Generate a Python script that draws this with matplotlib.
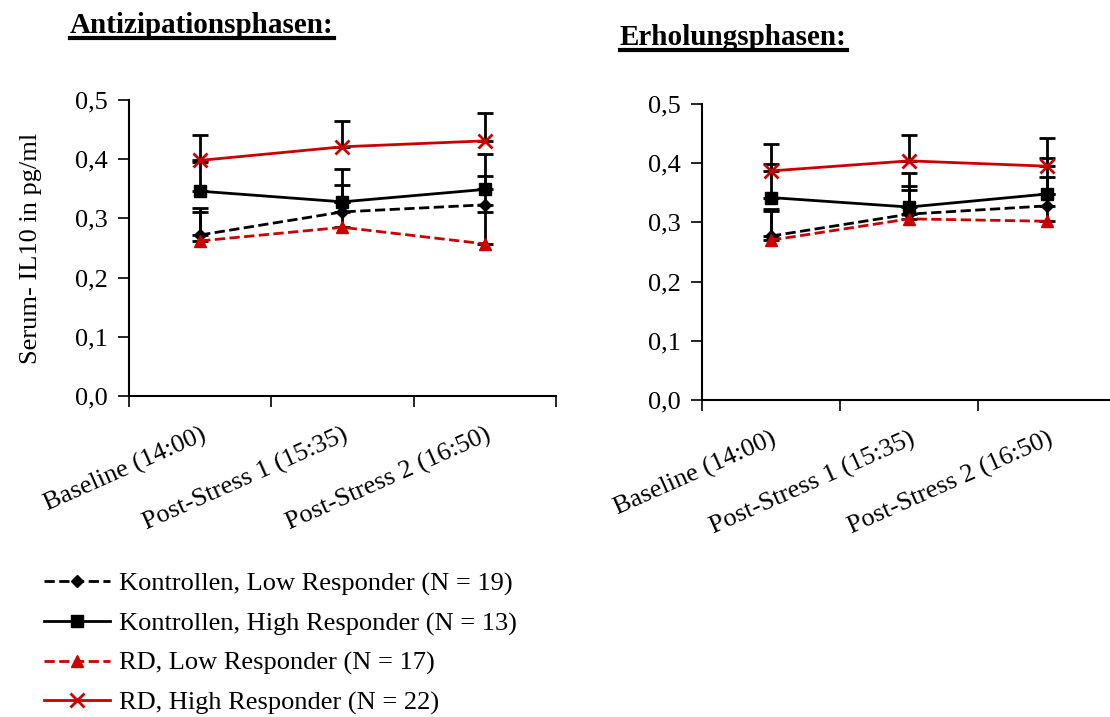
import numpy as np
import matplotlib
matplotlib.use('Agg')
from matplotlib import pyplot as plt
from matplotlib.lines import Line2D

plt.rcParams['font.family'] = ['Liberation Serif', 'DejaVu Serif']

zeiten = ['Baseline (14:00)', 'Post-Stress 1 (15:35)', 'Post-Stress 2 (16:50)']
gruppen = ['Kontrollen, Low Responder (N = 19)', 'Kontrollen, High Responder (N = 13)',
           'RD, Low Responder (N = 17)', 'RD, High Responder (N = 22)']

# Antizipationsphasen: mean and upper error
anti_kl = [0.272, 0.311, 0.323]
anti_kh = [0.346, 0.328, 0.349]
anti_rl = [0.262, 0.285, 0.257]
anti_rh = [0.398, 0.421, 0.431]
anti_kl_err = [0.045, 0.045, 0.049]
anti_kh_err = [0.050, 0.055, 0.060]
anti_rl_err = [0.048, 0.043, 0.053]
anti_rh_err = [0.043, 0.044, 0.047]

# Erholungsphasen
erh_kl = [0.277, 0.314, 0.328]
erh_kh = [0.342, 0.326, 0.348]
erh_rl = [0.270, 0.306, 0.302]
erh_rh = [0.387, 0.404, 0.395]
erh_kl_err = [0.045, 0.047, 0.048]
erh_kh_err = [0.056, 0.058, 0.060]
erh_rl_err = [0.050, 0.049, 0.046]
erh_rh_err = [0.045, 0.044, 0.047]

rot = '#cc0000'
stile = [dict(color='black', ls='--', marker='D', ms=6),
         dict(color='black', ls='-', marker='s', ms=9),
         dict(color=rot, ls='--', marker='^', ms=9),
         dict(color=rot, ls='-', marker='x', ms=10, mew=2)]

fs = 19
fig = plt.figure(figsize=(11.1, 7.17), dpi=100)
ax1 = fig.add_axes([0.1162, 0.4477, 0.3847, 0.4128])
ax2 = fig.add_axes([0.6324, 0.4421, 0.3730, 0.4128])

def panel(ax, werte, fehler):
    x = np.arange(len(zeiten))
    for y, e in zip(werte, fehler):
        ax.errorbar(x, y, yerr=[np.zeros(len(e)), e], fmt='none', ecolor='black',
                    elinewidth=2, capsize=6, capthick=2, zorder=2)
    for y, s, lab in zip(werte, stile, gruppen):
        ax.plot(x, y, lw=2, label=lab, zorder=3, **s)
    ax.set_xlim(-0.5, 2.5)
    ax.set_ylim(0, 0.5)
    ax.set_yticks(np.arange(0, 0.51, 0.1))
    ax.set_yticklabels([('%.1f' % v).replace('.', ',') for v in np.arange(0, 0.51, 0.1)], fontsize=fs)
    ax.set_xticks(x)
    ax.set_xticklabels(zeiten, rotation=24, ha='right', va='top', rotation_mode='anchor', fontsize=fs)
    ax.set_xticks([-0.5, 0.5, 1.5, 2.5], minor=True)
    ax.tick_params(axis='x', which='major', length=0, pad=20)
    ax.tick_params(axis='x', which='minor', length=8, width=1.2, direction='out')
    ax.tick_params(axis='y', length=8, width=1.2, direction='out', pad=7)
    for sp in ['top', 'right']:
        ax.spines[sp].set_visible(False)
    for sp in ['left', 'bottom']:
        ax.spines[sp].set_linewidth(1.5)

panel(ax1, [anti_kl, anti_kh, anti_rl, anti_rh], [anti_kl_err, anti_kh_err, anti_rl_err, anti_rh_err])
panel(ax2, [erh_kl, erh_kh, erh_rl, erh_rh], [erh_kl_err, erh_kh_err, erh_rl_err, erh_rh_err])
ax1.set_ylabel('Serum- IL10 in pg/ml', fontsize=fs, labelpad=24)

h, l = ax1.get_legend_handles_labels()
fig.legend(h, l, loc='upper left', bbox_to_anchor=(0.023, 0.228), frameon=False,
           fontsize=fs, handlelength=2.5, labelspacing=0.6, handletextpad=0.35,
           borderpad=0.2)

t1 = fig.text(70 / 1110, 1 - 33 / 717, 'Antizipationsphasen:', fontsize=21, fontweight='bold')
t2 = fig.text(620 / 1110, 1 - 45 / 717, 'Erholungsphasen:', fontsize=21, fontweight='bold')
fig.canvas.draw()
r = fig.canvas.get_renderer()
for t in (t1, t2):
    bb = t.get_window_extent(r).transformed(fig.transFigure.inverted())
    yl = bb.y0 + 0.001
    fig.add_artist(Line2D([bb.x0, bb.x1], [yl, yl], color='black', lw=3, transform=fig.transFigure))

fig.savefig('out.png', dpi=100)
